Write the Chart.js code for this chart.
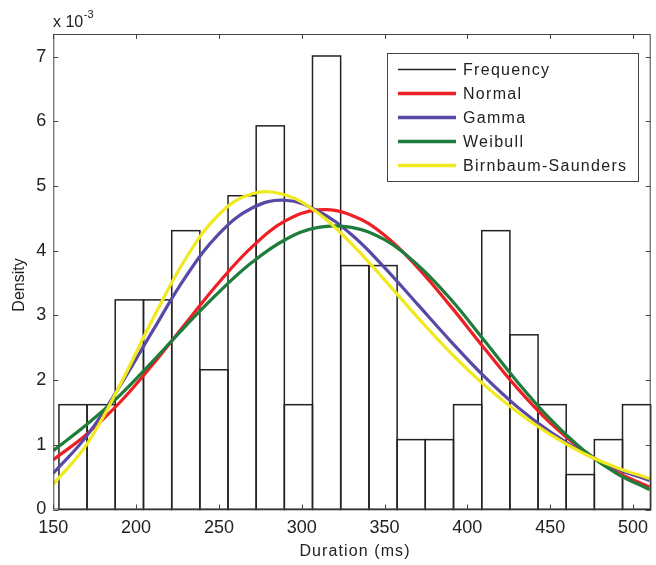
<!DOCTYPE html>
<html>
<head>
<meta charset="utf-8">
<script src="https://cdn.jsdelivr.net/npm/chart.js@4.4.1/dist/chart.umd.min.js"></script>
<style>
  body { margin: 0; background: #fff; }
  #wrap { width: 656px; height: 565px; position: relative; }
</style>
</head>
<body>
<div id="wrap"><canvas id="chart"></canvas></div>
<script>
// histogram bins (centres, ms) and density (x 10^-3)
const binCenters = [161.9, 178.9, 195.9, 213.0, 230.0, 247.0, 264.0, 281.0, 298.0, 315.0, 332.1,
                    349.1, 366.1, 383.1, 400.2, 417.2, 434.2, 451.2, 468.2, 485.2, 502.2];
const frequency = [1.62, 1.62, 3.24, 3.24, 4.31, 2.16, 4.85, 5.93, 1.62, 7.01, 3.77,
                   3.77, 1.08, 1.08, 1.62, 4.31, 2.70, 1.62, 0.54, 1.08, 1.62];

// fitted curves (x 10^-3)
const curveX = [150, 170, 190, 210, 230, 250, 270, 290, 310, 330, 350, 370, 390, 410, 430, 450, 470, 490, 510];
const normal  = [0.77, 1.16, 1.65, 2.24, 2.88, 3.51, 4.06, 4.46, 4.63, 4.55, 4.24, 3.74, 3.14, 2.50, 1.88, 1.34, 0.91, 0.58, 0.35];
const gamma   = [0.56, 1.13, 1.90, 2.76, 3.60, 4.26, 4.66, 4.78, 4.61, 4.25, 3.74, 3.17, 2.60, 2.06, 1.59, 1.20, 0.88, 0.63, 0.45];
const weibull = [0.91, 1.31, 1.76, 2.29, 2.84, 3.36, 3.82, 4.17, 4.36, 4.36, 4.17, 3.78, 3.25, 2.62, 1.98, 1.40, 0.92, 0.56, 0.31];
const birnbaum = [0.39, 1.00, 1.91, 2.94, 3.88, 4.56, 4.88, 4.86, 4.58, 4.11, 3.55, 2.97, 2.42, 1.93, 1.51, 1.16, 0.87, 0.65, 0.48];

const xTicks = [150, 200, 250, 300, 350, 400, 450, 500];
const yTicks = [0, 1, 2, 3, 4, 5, 6, 7];

const FONT = '"Liberation Sans", Arial, sans-serif';
const TEXT = "#222";

function pts(xs, ys) {
    return xs.map((x, i) => ({ x: x, y: ys[i] }));
}

function curve(label, color, values, order) {
    return {
        type: "line",
        label: label,
        data: pts(curveX, values),
        borderColor: color,
        borderWidth: 3.2,
        pointRadius: 0,
        tension: 0.4,
        fill: false,
        order: order
    };
}

// outline the histogram bars with a single shared edge
const barOutline = {
    id: "barOutline",
    afterDatasetDraw(chart, args) {
        if (args.index !== 0) return;
        const ctx = chart.ctx;
        ctx.save();
        ctx.strokeStyle = "#222";
        ctx.lineWidth = 1.5;
        args.meta.data.forEach(bar => {
            const p = bar.getProps(["x", "y", "base", "width"], true);
            ctx.strokeRect(p.x - p.width / 2, p.y, p.width, p.base - p.y);
        });
        ctx.restore();
    }
};

// box, inward ticks, axis titles, exponent and legend
const decorations = {
    id: "decorations",
    afterDatasetsDraw(chart) {
        const ctx = chart.ctx;
        const a = chart.chartArea;
        const xs = chart.scales.x, ys = chart.scales.y;
        ctx.save();
        ctx.strokeStyle = "#444";
        ctx.lineWidth = 1;
        ctx.strokeRect(a.left + 0.5, a.top + 0.5, a.right - a.left - 1, a.bottom - a.top - 1);
        ctx.beginPath();
        xTicks.forEach(v => {
            const px = Math.round(xs.getPixelForValue(v)) + 0.5;
            ctx.moveTo(px, a.bottom); ctx.lineTo(px, a.bottom - 5);
            ctx.moveTo(px, a.top); ctx.lineTo(px, a.top + 5);
        });
        yTicks.forEach(v => {
            const py = Math.round(ys.getPixelForValue(v)) + 0.5;
            ctx.moveTo(a.left, py); ctx.lineTo(a.left + 5, py);
            ctx.moveTo(a.right, py); ctx.lineTo(a.right - 5, py);
        });
        ctx.stroke();

        ctx.fillStyle = TEXT;
        ctx.font = "16px " + FONT;
        ctx.textAlign = "center";
        ctx.textBaseline = "alphabetic";
        ctx.letterSpacing = "1.1px";
        ctx.fillText("Duration (ms)", (a.left + a.right) / 2 + 3, 556);
        ctx.letterSpacing = "0px";

        ctx.save();
        ctx.translate(24, 285);
        ctx.rotate(-Math.PI / 2);
        ctx.fillText("Density", 0, 0);
        ctx.restore();

        ctx.textAlign = "left";
        ctx.fillText("x 10", 53, 27);
        const w = ctx.measureText("x 10").width;
        ctx.font = "11px " + FONT;
        ctx.fillText("-3", 53 + w + 0.5, 18);

        // legend
        const lx = 387, ly = 53, lw = 251, lh = 128;
        ctx.fillStyle = "#fff";
        ctx.fillRect(lx, ly, lw, lh);
        ctx.strokeStyle = "#444";
        ctx.strokeRect(lx + 0.5, ly + 0.5, lw, lh);
        ctx.font = "16px " + FONT;
        ctx.letterSpacing = "1.3px";
        ctx.textBaseline = "middle";
        chart.data.datasets.forEach((ds, i) => {
            const y = ly + 16.5 + i * 24;
            ctx.strokeStyle = ds.type === "line" ? ds.borderColor : "#222";
            ctx.lineWidth = ds.type === "line" ? 3.4 : 1.5;
            ctx.beginPath();
            ctx.moveTo(398, y); ctx.lineTo(456, y);
            ctx.stroke();
            ctx.fillStyle = TEXT;
            ctx.fillText(ds.label, 463, y + 1);
        });
        ctx.restore();
    }
};

const ctx = document.getElementById("chart").getContext("2d");
new Chart(ctx, {
    type: "bar",
    data: {
        datasets: [
            {
                type: "bar",
                label: "Frequency",
                data: pts(binCenters, frequency),
                backgroundColor: "rgba(255,255,255,0)",
                borderWidth: 0,
                barPercentage: 1,
                categoryPercentage: 1,
                order: 10
            },
            curve("Normal", "#ee1f25", normal, 5),
            curve("Gamma", "#5849a6", gamma, 4),
            curve("Weibull", "#1e7d3a", weibull, 3),
            curve("Birnbaum-Saunders", "#f1e91e", birnbaum, 2)
        ]
    },
    options: {
        responsive: true,
        maintainAspectRatio: false,
        animation: false,
        layout: { padding: { top: 34, right: 1, left: 0, bottom: 0 } },
        plugins: { legend: { display: false }, tooltip: { enabled: false } },
        scales: {
            x: {
                type: "linear",
                min: 150,
                max: 510.7,
                offset: false,
                grid: { display: false, drawTicks: false },
                border: { display: false },
                ticks: {
                    stepSize: 50,
                    includeBounds: false,
                    padding: 8,
                    color: TEXT,
                    font: { size: 18, family: FONT },
                    maxRotation: 0
                },
                afterFit: s => { s.height = 55.5; }
            },
            y: {
                min: 0,
                max: 7.35,
                grid: { display: false, drawTicks: false },
                border: { display: false },
                ticks: {
                    stepSize: 1,
                    includeBounds: false,
                    padding: 7,
                    color: TEXT,
                    font: { size: 18, family: FONT }
                },
                afterFit: s => { s.width = 53.3; }
            }
        }
    },
    plugins: [barOutline, decorations]
});
</script>
</body>
</html>
